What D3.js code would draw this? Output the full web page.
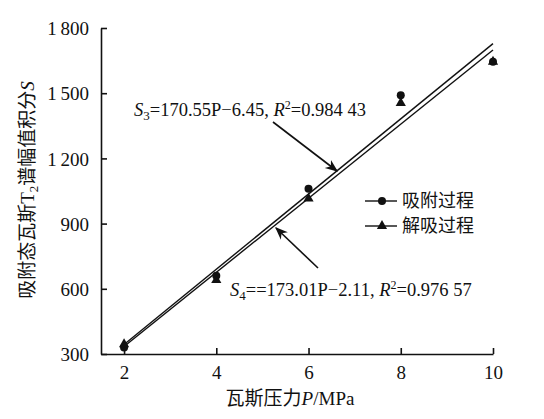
<!DOCTYPE html>
<html><head><meta charset="utf-8">
<script src="https://cdn.jsdelivr.net/npm/d3@7"></script>
<style>
body{margin:0;background:#fff}
text{font-family:"Liberation Serif","Noto Sans CJK SC",serif;fill:#111}
</style></head><body>
<svg id="c" width="544" height="419"></svg>
<script>
var pressure = [2, 4, 6, 8, 10],
    adsorption = [330, 660, 1060, 1490, 1645],
    desorption = [345, 640, 1015, 1455, 1645],
    xTicks = [2, 4, 6, 8, 10],
    yTicks = [300, 600, 900, 1200, 1500, 1800],
    fitS3 = [170.55, -6.45],
    fitS4 = [173.01, -2.11];

var svg = d3.select('#c'),
    x = d3.scaleLinear().domain([1.5, 10]).range([101, 493]),
    y = d3.scaleLinear().domain([300, 1800]).range([354, 28]);

function fmt(d) {
    return d >= 1000 ? String(d).replace(/^(\d)/, '$1\u2009') : d;
}

svg.append('g').attr('transform', 'translate(0,354)')
    .call(d3.axisBottom(x).tickValues(xTicks).tickSizeInner(-6).tickSizeOuter(0).tickPadding(12))
    .call(function (g) {
        g.selectAll('text').style('font-size', '19px');
    });
svg.append('g').attr('transform', 'translate(101,0)')
    .call(d3.axisLeft(y).tickValues(yTicks).tickSizeInner(-6).tickSizeOuter(0).tickPadding(12).tickFormat(fmt))
    .call(function (g) {
        g.selectAll('text').style('font-size', '19px').attr('dy', '0.35em');
    });
svg.selectAll('.domain, .tick line').attr('stroke', '#111').attr('stroke-width', 1.6);

function fitLine(f) {
    return [[2, f[0] * 2 + f[1]], [10, f[0] * 10 + f[1]]];
}
var line = d3.line().x(function (d) { return x(d[0]); }).y(function (d) { return y(d[1]); });
[fitS3, fitS4].forEach(function (f) {
    svg.append('path').attr('d', line(fitLine(f))).attr('stroke', '#111').attr('stroke-width', 1.4).attr('fill', 'none');
});

svg.selectAll('circle.a').data(pressure).enter().append('circle')
    .attr('cx', function (d) { return x(d); })
    .attr('cy', function (d, i) { return y(adsorption[i]); })
    .attr('r', 4).attr('fill', '#111');
var tri = d3.symbol().type(d3.symbolTriangle).size(45);
svg.selectAll('path.t').data(pressure).enter().append('path')
    .attr('d', tri)
    .attr('transform', function (d, i) { return 'translate(' + x(d) + ',' + y(desorption[i]) + ')'; })
    .attr('fill', '#111');

var defs = svg.append('defs');
defs.append('marker').attr('id', 'ah').attr('viewBox', '0 0 10 10').attr('refX', 9).attr('refY', 5)
    .attr('markerWidth', 8).attr('markerHeight', 8).attr('orient', 'auto')
    .append('path').attr('d', 'M0,1 L10,5 L0,9 L3,5 z').attr('fill', '#111');
svg.append('line').attr('x1', 273).attr('y1', 122).attr('x2', 337).attr('y2', 171)
    .attr('stroke', '#111').attr('stroke-width', 1.6).attr('marker-end', 'url(#ah)');
svg.append('line').attr('x1', 318).attr('y1', 268).attr('x2', 276).attr('y2', 228)
    .attr('stroke', '#111').attr('stroke-width', 1.6).attr('marker-end', 'url(#ah)');

function eq(tx, ty, sub, body, r2) {
    var t = svg.append('text').attr('x', tx).attr('y', ty).style('font-size', '18.5px');
    t.append('tspan').text('S').style('font-style', 'italic');
    t.append('tspan').text(sub).attr('dy', 4).style('font-size', '13px');
    t.append('tspan').text(body).attr('dy', -4);
    t.append('tspan').text('R').style('font-style', 'italic');
    t.append('tspan').text('2').attr('dy', -7).style('font-size', '12px');
    t.append('tspan').text(r2).attr('dy', 7);
}
eq(134, 116, '3', '=170.55P\u22126.45, ', '=0.984 43');
eq(230, 296, '4', '==173.01P\u22122.11, ', '=0.976 57');

var legend = [['吸附过程', 'c'], ['解吸过程', 't']];
legend.forEach(function (d, i) {
    var ly = 201 + i * 25;
    svg.append('line').attr('x1', 365).attr('x2', 397).attr('y1', ly).attr('y2', ly).attr('stroke', '#111').attr('stroke-width', 1.4);
    if (d[1] === 'c') {
        svg.append('circle').attr('cx', 382).attr('cy', ly).attr('r', 4).attr('fill', '#111');
    } else {
        svg.append('path').attr('d', tri).attr('transform', 'translate(382,' + ly + ')').attr('fill', '#111');
    }
    svg.append('text').attr('x', 402).attr('y', ly).attr('dy', '0.35em').style('font-size', '18px').text(d[0]);
});

var xl = svg.append('text').attr('x', 290).attr('y', 405).attr('text-anchor', 'middle').style('font-size', '19px');
xl.append('tspan').text('瓦斯压力');
xl.append('tspan').text('P').style('font-style', 'italic');
xl.append('tspan').text('/MPa');

var yl = svg.append('text').attr('transform', 'translate(34,190) rotate(-90)').attr('text-anchor', 'middle').style('font-size', '19px');
yl.append('tspan').text('吸附态瓦斯T');
yl.append('tspan').text('2').attr('dy', 4).style('font-size', '13px');
yl.append('tspan').text('谱幅值积分').attr('dy', -4);
yl.append('tspan').text('S').style('font-style', 'italic');
</script></body></html>
